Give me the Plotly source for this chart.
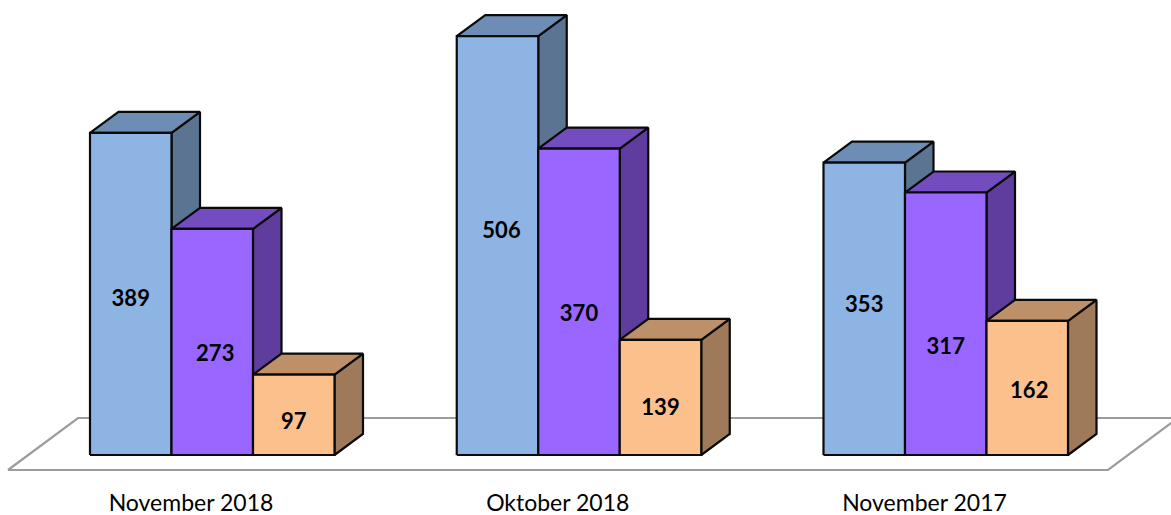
import plotly.graph_objects as go

categories = ["November 2018", "Oktober 2018", "November 2017"]
series_blue = [389, 506, 353]
series_purple = [273, 370, 317]
series_orange = [97, 139, 162]

W, H = 1171, 515
PLOT_BOTTOM = 485
BASE_PX = 455
PX_PER_UNIT = 0.828
GROUP_PX = 366.75
BAR_PX = 81.5
FIRST_LEFT_PX = 90
DEPTH_X_PX = 28.5
DEPTH_Y_PX = 21

x_range = [-FIRST_LEFT_PX / GROUP_PX, (W - FIRST_LEFT_PX) / GROUP_PX]
y_range = [(BASE_PX - PLOT_BOTTOM) / PX_PER_UNIT, BASE_PX / PX_PER_UNIT]

bar_w = BAR_PX / GROUP_PX
dx = DEPTH_X_PX / GROUP_PX
dy = DEPTH_Y_PX / PX_PER_UNIT

styles = [
    dict(values=series_blue, front="#8DB4E2", top="#6E8DB4", side="#5A7492"),
    dict(values=series_purple, front="#9966FF", top="#734DBF", side="#5F3D9F"),
    dict(values=series_orange, front="#FCC08D", top="#BD906A", side="#9E7A5A"),
]

label_nudge_x_px = [[0, 4, 0], [3, 0, 0], [0, 0, 2]]
label_nudge_y_px = [[-7, 13, 2], [-14, -14, -25], [-9, -12, -5]]

fig = go.Figure()


def px_x(px):
    return (px - FIRST_LEFT_PX) / GROUP_PX


def px_y(px):
    return (BASE_PX - px) / PX_PER_UNIT


FLOOR_PX = [(8, 470), (78, 418), (1178, 418), (1108, 470), (8, 470)]
fig.add_trace(go.Scatter(
    x=[px_x(p[0]) for p in FLOOR_PX], y=[px_y(p[1]) for p in FLOOR_PX],
    mode="lines", line=dict(color="#9C9C9C", width=2.2), hoverinfo="skip", showlegend=False))


def add_poly(xs, ys, color):
    fig.add_trace(go.Scatter(
        x=xs, y=ys, mode="lines", fill="toself", fillcolor=color,
        line=dict(color="#0A0A0A", width=2.2), hoverinfo="skip", showlegend=False))


for s_i, st in enumerate(styles):
    side_x, side_y, top_x, top_y, front_x, front_y = [], [], [], [], [], []
    for g_i, v in enumerate(st["values"]):
        l = g_i + s_i * bar_w
        r = l + bar_w
        side_x += [r, r + dx, r + dx, r, r, None]
        side_y += [0, dy, v + dy, v, 0, None]
        top_x += [l, l + dx, r + dx, r, l, None]
        top_y += [v, v + dy, v + dy, v, v, None]
        front_x += [l, r, r, l, l, None]
        front_y += [0, 0, v, v, 0, None]
    add_poly(side_x, side_y, st["side"])
    add_poly(top_x, top_y, st["top"])
    add_poly(front_x, front_y, st["front"])

lx, ly, lt = [], [], []
for s_i, st in enumerate(styles):
    for g_i, v in enumerate(st["values"]):
        lx.append(g_i + s_i * bar_w + bar_w / 2 + label_nudge_x_px[s_i][g_i] / GROUP_PX)
        ly.append(v / 2 + label_nudge_y_px[s_i][g_i] / PX_PER_UNIT)
        lt.append(str(v))
fig.add_trace(go.Scatter(
    x=lx, y=ly, text=lt, mode="text", textposition="middle center",
    textfont=dict(family="Lato", size=22, color="#000000", weight="bold"),
    hoverinfo="skip", showlegend=False))

tick_shift = px_x(191)
fig.update_layout(
    width=W, height=H, autosize=False,
    margin=dict(l=0, r=0, t=0, b=H - PLOT_BOTTOM),
    paper_bgcolor="white", plot_bgcolor="white",
    showlegend=False,
    font=dict(family="Lato", color="#000000"),
    xaxis=dict(range=x_range, showgrid=False, zeroline=False, showline=False,
               ticks="", tickmode="array",
               tickvals=[i + tick_shift for i in range(len(categories))],
               ticktext=categories, tickfont=dict(family="Lato", size=23),
               ticklabelstandoff=2,
               tickangle=0, fixedrange=True),
    yaxis=dict(range=y_range, visible=False, fixedrange=True),
)
fig.write_html("out.html", config=dict(displayModeBar=False),
               post_script="document.body.style.margin='0';document.documentElement.style.overflow='hidden';")
